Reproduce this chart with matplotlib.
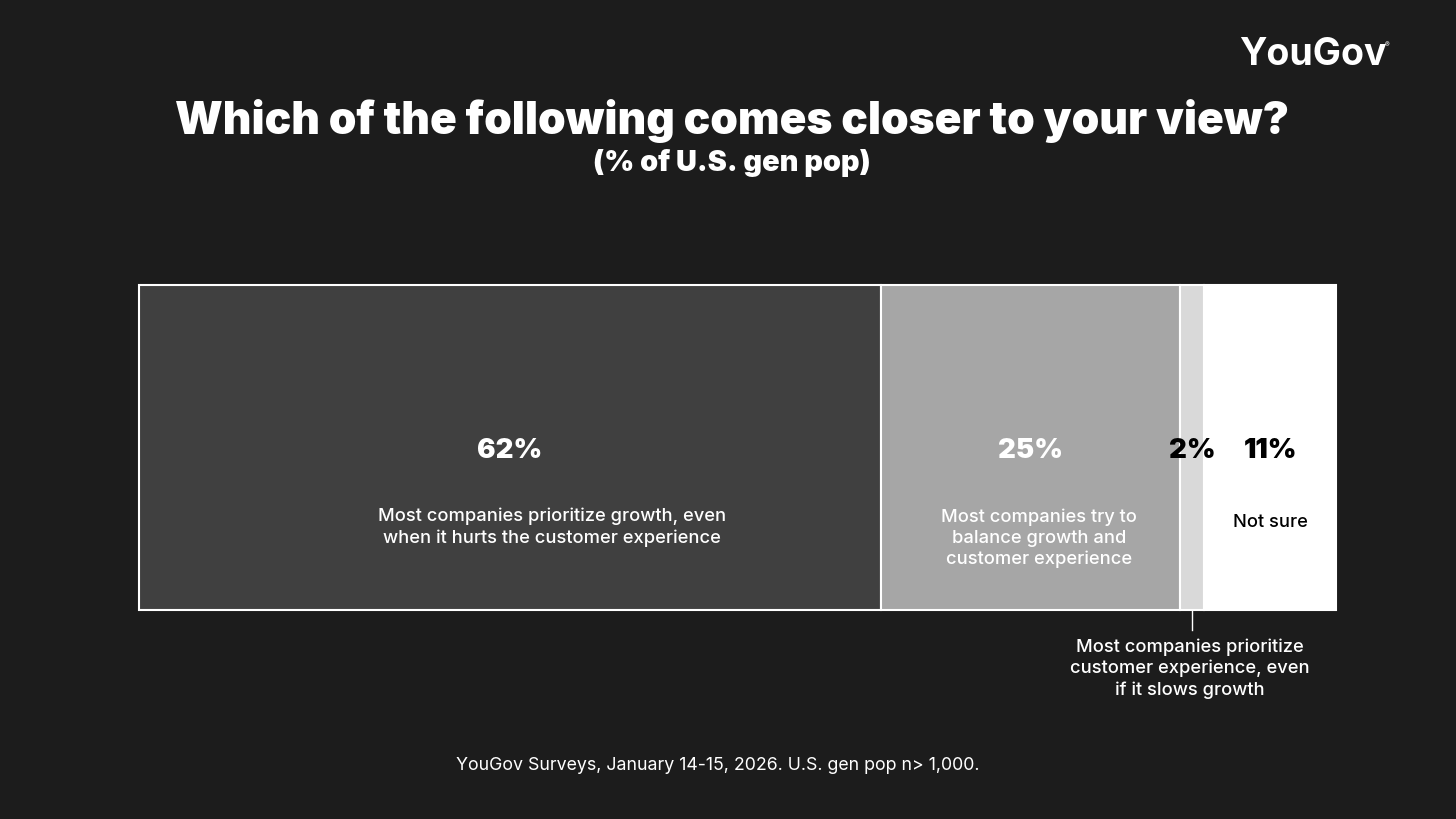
import matplotlib
matplotlib.use("Agg")
import matplotlib.pyplot as plt

categories = [
    "Most companies prioritize growth, even\nwhen it hurts the customer experience",
    "Most companies try to\nbalance growth and\ncustomer experience",
    "Most companies prioritize\ncustomer experience, even\nif it slows growth",
    "Not sure",
]
values = [62, 25, 2, 11]
colors = ["#404040", "#a6a6a6", "#d9d9d9", "#ffffff"]
pct_colors = ["white", "white", "black", "black"]
label_colors = ["white", "white", "white", "black"]

BG = "#1c1c1c"
W, H = 1456, 819
fig = plt.figure(figsize=(W / 100, H / 100), dpi=100, facecolor=BG)

title_font = ["Inter", "DejaVu Sans"]
body_font = ["Inter", "DejaVu Sans"]

fig.text(732 / W, 1 - 121 / H, "Which of the following comes closer to your view?",
         ha="center", va="center", color="white", fontsize=31.8, fontweight="black",
         family=title_font)
fig.text(732 / W, 1 - 163 / H, "(% of U.S. gen pop)", ha="center", va="center",
         color="white", fontsize=20.8, fontweight="black", family=title_font)
fig.text(1313 / W, 1 - 55 / H, "YouGov", ha="center", va="center", color="white",
         fontsize=27, fontweight="bold", family=body_font)
fig.text(1387 / W, 1 - 45 / H, "®", ha="center", va="center", color="white",
         fontsize=5, family=body_font)
fig.text(718 / W, 1 - 766 / H,
         "YouGov Surveys, January 14-15, 2026. U.S. gen pop n> 1,000.",
         ha="center", va="center", color="white", fontsize=12.8, family=body_font)

x0, x1, y0, y1 = 139, 1336, 285, 610
ax = fig.add_axes([x0 / W, 1 - y1 / H, (x1 - x0) / W, (y1 - y0) / H])
ax.set_facecolor(BG)
ax.set_xlim(0, sum(values))
ax.set_ylim(0, 1)
ax.axis("off")

left = 0
for i, (v, c) in enumerate(zip(values, colors)):
    ax.barh(0.5, v, left=left, height=1, color=c, edgecolor="white", linewidth=1.5,
            clip_on=False)
    cx = left + v / 2
    ax.text(cx, 0.49, f"{v}%", ha="center", va="center", color=pct_colors[i],
            fontsize=19.8, fontweight="black", family=title_font)
    if i == 2:
        ax.plot([cx, cx], [0, -0.06], color="white", lw=1, clip_on=False)
        ax.text(cx - 0.2, -0.18, categories[i], ha="center", va="center",
                color=label_colors[i], fontsize=13.2, fontweight="medium",
                family=body_font, linespacing=1.3)
    elif i == 3:
        ax.text(cx, 0.27, categories[i], ha="center", va="center",
                color=label_colors[i], fontsize=13.2, fontweight="medium",
                family=body_font)
    else:
        yy = 0.255 if i == 0 else 0.22
        ax.text(cx + (3.5 if i == 0 else 0.7), yy, categories[i], ha="center",
                va="center", color=label_colors[i], fontsize=13.2,
                fontweight="medium", family=body_font, linespacing=1.3)
    left += v

fig.savefig("out.png", dpi=100, facecolor=BG)
